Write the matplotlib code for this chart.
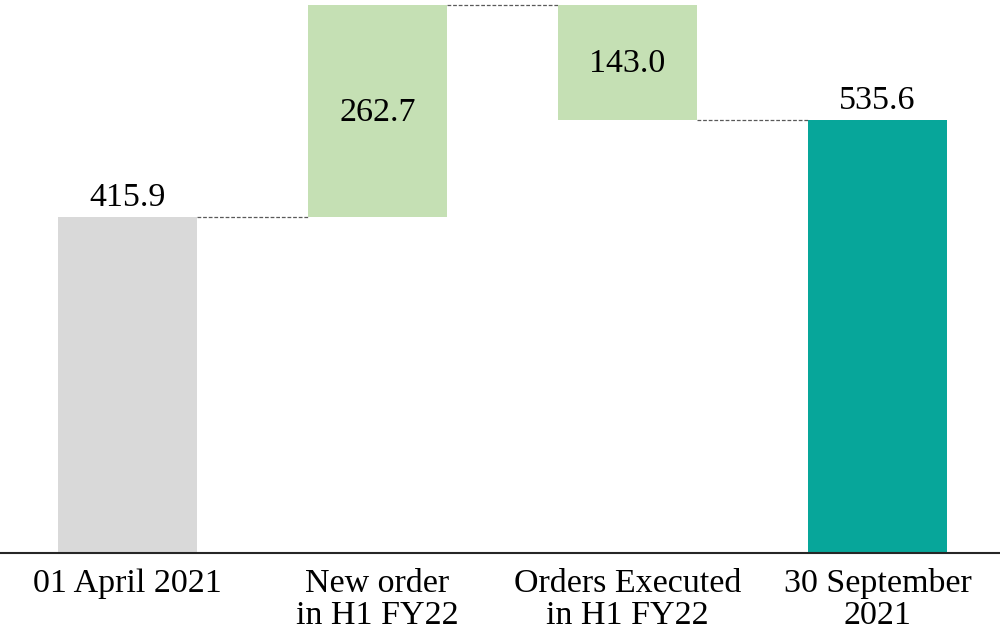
import matplotlib
matplotlib.use("Agg")
import matplotlib.pyplot as plt

categories = ["01 April 2021", "New order\nin H1 FY22", "Orders Executed\nin H1 FY22", "30 September\n2021"]
opening = 415.9
new_orders = 262.7
executed = 143.0
closing = 535.6

colors = ["#d9d9d9", "#c5e0b4", "#c5e0b4", "#07a69a"]

plt.rcParams["font.family"] = ["Liberation Serif", "DejaVu Serif"]

fig = plt.figure(figsize=(10, 6.32), dpi=100)
ax = fig.add_axes([0, 0.125, 1, 0.875])

peak = opening + new_orders
bottoms = [0, opening, peak - executed, 0]
heights = [opening, new_orders, executed, closing]
xs = list(range(len(categories)))
width = 0.556

ax.bar(xs, heights, bottom=bottoms, width=width, color=colors, edgecolor="none", zorder=2)

# dashed connectors between consecutive bars
levels = [opening, peak, closing]
for i, lvl in enumerate(levels):
    ax.plot([i + width / 2, i + 1 - width / 2], [lvl, lvl], color="#595959",
            lw=0.9, ls=(0, (3, 1.5)), zorder=1)

fs = 24.5
ax.text(0, opening + 5, f"{opening:.1f}", ha="center", va="bottom", fontsize=fs)
ax.text(1, opening + new_orders / 2 - 2, f"{new_orders:.1f}", ha="center", va="center", fontsize=fs)
ax.text(2, peak - executed / 2 - 2, f"{executed:.1f}", ha="center", va="center", fontsize=fs)
ax.text(3, closing + 5, f"{closing:.1f}", ha="center", va="bottom", fontsize=fs)

ax.set_xlim(-0.51, 3.49)
ax.set_ylim(0, 684.5)
ax.set_xticks(xs)
ax.set_xticklabels(categories, fontsize=fs, linespacing=1.06)
ax.tick_params(axis="x", length=0, pad=11)
ax.set_yticks([])
for s in ["top", "right", "left"]:
    ax.spines[s].set_visible(False)
ax.spines["bottom"].set_color("#262626")
ax.spines["bottom"].set_linewidth(1.5)

fig.savefig("out.png", dpi=100)
